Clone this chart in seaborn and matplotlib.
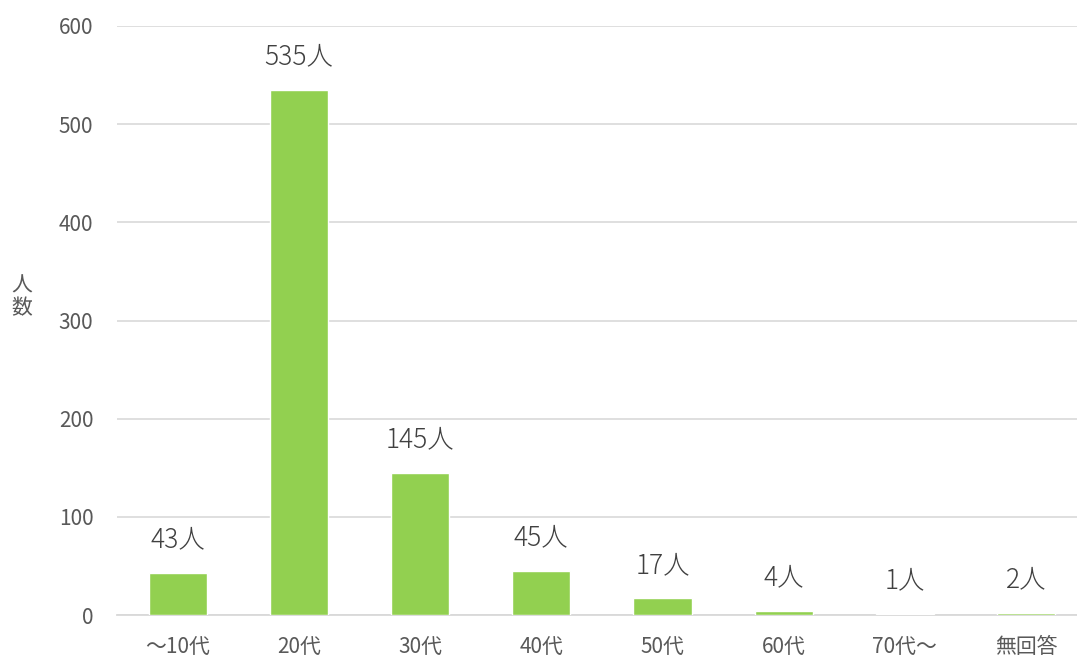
import numpy as np
import pandas as pd
import seaborn as sns
import matplotlib.pyplot as plt

categories = ['～10代', '20代', '30代', '40代', '50代', '60代', '70代～', '無回答']
counts = [43, 535, 145, 45, 17, 4, 1, 2]

sns.set_theme(style='white')
plt.rcParams['font.family'] = ['Noto Sans CJK JP', 'DejaVu Sans']

df = pd.DataFrame({'age': categories, 'n': counts})

fig = plt.figure(figsize=(10.77, 6.59), dpi=100)
ax = fig.add_axes([117 / 1077, 44 / 659, 960 / 1077, 589 / 659])

sns.barplot(data=df, x='age', y='n', color='#92D050', saturation=1,
            width=0.48, ax=ax, zorder=3)

ax.set_ylim(0, 600)
ax.set_yticks(range(0, 601, 100))
ax.set_xlim(-0.5, 7.42)
ax.grid(axis='y', color='#D9D9D9', linewidth=1.2, zorder=0)
for s in ['top', 'right', 'left']:
    ax.spines[s].set_visible(False)
ax.spines['bottom'].set_color('#D9D9D9')
ax.spines['bottom'].set_linewidth(1.3)

ax.set_xticks(np.arange(len(categories)))
ax.set_xticks(np.arange(len(categories)) - 0.5, minor=True)
ax.tick_params(axis='x', which='major', length=0, pad=15, labelsize=15, labelcolor='#595959')
ax.tick_params(axis='x', which='minor', length=6, width=1.3, color='#D9D9D9', direction='out')
ax.tick_params(axis='y', length=0, pad=17, labelsize=15, labelcolor='#595959')

ax.bar_label(ax.containers[0], labels=[f'{v}人' for v in counts],
             padding=14, fontsize=19, color='#404040', fontweight='light')

ax.set_xlabel('')
ax.set_ylabel('')
fig.text(22 / 1077, 1 - 297 / 659, '人\n数', ha='center', va='center',
         fontsize=15, color='#595959', linespacing=1.0)

fig.savefig('out.png', dpi=100)
